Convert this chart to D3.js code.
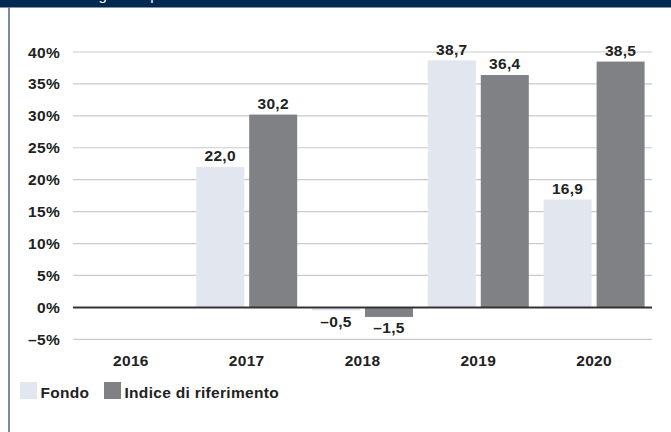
<!DOCTYPE html>
<html>
<head>
  <script src="https://d3js.org/d3.v7.min.js"></script>
  <style>
    html, body {
      margin: 0px;
      padding: 0px;
      background: #fff;
      font-family: "Liberation Sans", Arial, Helvetica, sans-serif;
    }
    .lbl {
      font-weight: bold;
      font-size: 15.5px;
      letter-spacing: 0.3px;
      fill: #222;
    }
  </style>
</head>
<body>
  <div id="chart"></div>
  <script>
    // data
    const years = ["2016", "2017", "2018", "2019", "2020"];
    const seriesNames = ["Fondo", "Indice di riferimento"];
    const fondo = [null, 22.0, -0.5, 38.7, 16.9];
    const indice = [null, 30.2, -1.5, 36.4, 38.5];
    const yTicks = [-5, 0, 5, 10, 15, 20, 25, 30, 35, 40];
    const colors = ["#e1e6ef", "#808185"];

    const width = 671, height = 432;
    const svg = d3.select("#chart").append("svg")
      .attr("width", width)
      .attr("height", height);

    // header bar (title runs off the top, only descenders show) and left frame line
    svg.append("rect")
      .attr("x", 0).attr("y", 0)
      .attr("width", width).attr("height", 7.5)
      .attr("fill", "#002851");

    svg.append("text")
      .attr("x", 1)
      .attr("y", 0)
      .attr("fill", "#fff")
      .style("font-size", "15px")
      .text("Andamento degli anni passati");

    svg.append("line")
      .attr("x1", 9).attr("x2", 9)
      .attr("y1", 7.5).attr("y2", height)
      .attr("stroke", "#4d6383")
      .attr("stroke-width", 1.5);

    // scales
    const x0 = d3.scaleBand()
      .domain(years)
      .range([73, 652]);

    const bw = x0.bandwidth();
    const x1 = d3.scaleBand()
      .domain(seriesNames)
      .range([(bw - 101) / 2, (bw + 101) / 2])
      .paddingInner(0.094);

    const y = d3.scaleLinear()
      .domain([-5, 40])
      .range([339.3, 52]);

    // gridlines
    svg.append("g")
      .selectAll("line")
      .data(yTicks.filter(d => d !== 0))
      .join("line")
        .attr("x1", 73).attr("x2", 652)
        .attr("y1", d => y(d)).attr("y2", d => y(d))
        .attr("stroke", "#cacaca")
        .attr("stroke-width", 1.2);

    // y labels
    svg.append("g")
      .selectAll("text")
      .data(yTicks)
      .join("text")
        .attr("class", "lbl")
        .attr("x", 60)
        .attr("y", d => y(d) + 5.5)
        .attr("text-anchor", "end")
        .text(d => (d < 0 ? "\u2013" + Math.abs(d) : d) + "%");

    // bars
    const rows = [];
    years.forEach((yr, i) => {
      rows.push({year: yr, s: seriesNames[0], v: fondo[i], c: colors[0]});
      rows.push({year: yr, s: seriesNames[1], v: indice[i], c: colors[1]});
    });
    const bars = rows.filter(d => d.v !== null);

    svg.append("g")
      .selectAll("rect")
      .data(bars)
      .join("rect")
        .attr("x", d => x0(d.year) + x1(d.s))
        .attr("y", d => y(Math.max(0, d.v)))
        .attr("width", x1.bandwidth())
        .attr("height", d => Math.abs(y(d.v) - y(0)))
        .attr("fill", d => d.c);

    // zero line
    svg.append("line")
      .attr("x1", 73).attr("x2", 652)
      .attr("y1", y(0)).attr("y2", y(0))
      .attr("stroke", "#333")
      .attr("stroke-width", 2);

    // value labels
    const fmt = v => (v < 0 ? "\u2013" : "") + Math.abs(v).toFixed(1).replace(".", ",");
    svg.append("g")
      .selectAll("text")
      .data(bars)
      .join("text")
        .attr("class", "lbl")
        .attr("x", d => x0(d.year) + x1(d.s) + x1.bandwidth() / 2)
        .attr("y", d => d.v >= 0 ? y(d.v) - 5.5 : y(d.v) + 16.5)
        .attr("text-anchor", "middle")
        .text(d => fmt(d.v));

    // x labels
    svg.append("g")
      .selectAll("text")
      .data(years)
      .join("text")
        .attr("class", "lbl")
        .attr("x", d => x0(d) + bw / 2)
        .attr("y", 366)
        .attr("text-anchor", "middle")
        .text(d => d);

    // legend
    const legX = [20, 104];
    const leg = svg.append("g")
      .selectAll("g")
      .data(seriesNames)
      .join("g")
        .attr("transform", (d, i) => `translate(${legX[i]},382)`);
    leg.append("rect")
      .attr("width", 17).attr("height", 17)
      .attr("fill", (d, i) => colors[i]);
    leg.append("text")
      .attr("class", "lbl")
      .attr("x", 20.5)
      .attr("y", 16)
      .text(d => d);
  </script>
</body>
</html>
